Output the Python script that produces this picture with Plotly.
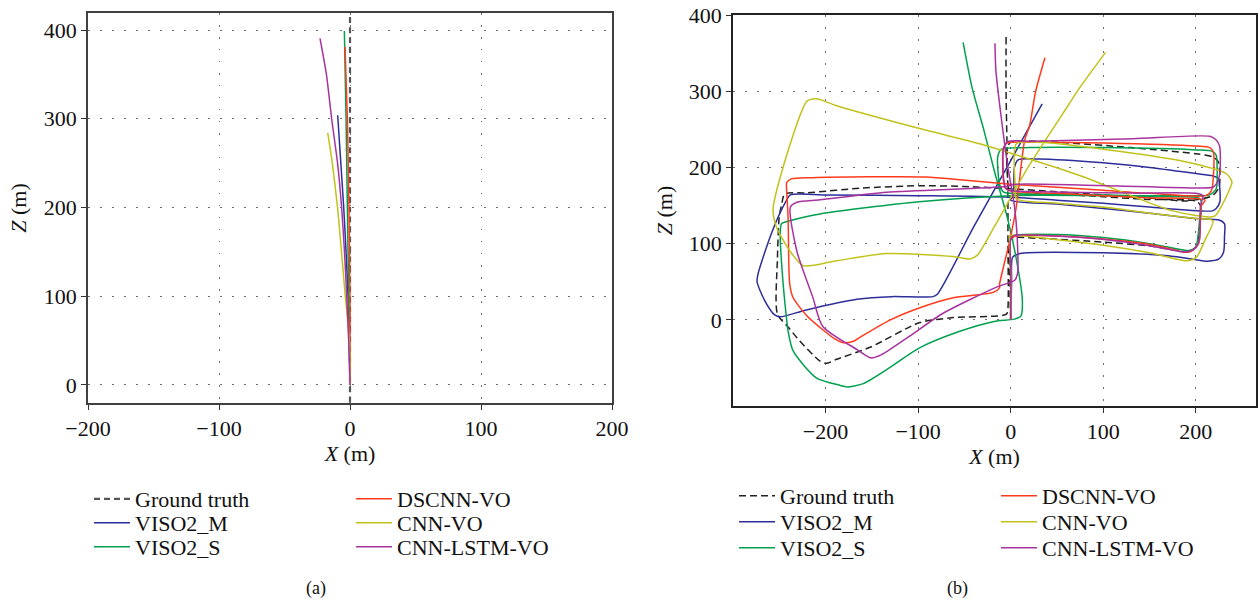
import plotly.graph_objects as go

# ---------------- (a) straight sequence ----------------
a_gt_x = [0, 0, 0]
a_gt_z = [-20, 200, 420]
a_m_x = [0, -0.5, -1.5, -3, -4.8, -7, -9.4]
a_m_z = [0, 50, 100, 150, 200, 250, 304]
a_s_x = [0, -0.5, -1, -2, -3, -4.3]
a_s_z = [0, 50, 100, 200, 300, 399]
a_ds_x = [0, 0, 0, -0.8, -2, -3.8]
a_ds_z = [0, 50, 100, 200, 300, 381]
a_cnn_x = [0, -0.5, -3.6, -6.5, -9.5, -13.5, -17]
a_cnn_z = [0, 50, 100, 150, 200, 250, 284]
a_lstm_x = [0, -1, -2.5, -4.2, -6.4, -9.5, -14, -18, -22.9]
a_lstm_z = [0, 50, 100, 150, 200, 250, 300, 350, 390.6]

# ---------------- (b) loop sequence ----------------
b_gt_x = [0, -1, -1, 3, 30, 100, 150, 180, 192, 200, 204, 205, 200, 150, 80, 10, -2,
          -3, -4, 0, 50, 130, 200, 218, 224, 226, 225, 218, 190, 150, 100, 50, 0,
          -50, -98, -160, -220.6, -244, -247.6, -250, -252, -252,
          -240, -228, -206, -199, -188, -152, -98, -62, -4.6,
          -3, -3, -3, -4, -5, -5]
b_gt_z = [0, 60, 104, 108, 107, 102, 97, 91, 89, 95, 120, 150, 156, 158, 163, 168, 172,
          180, 225, 233, 233, 226, 218, 214, 208, 190, 174, 163, 156, 160, 164, 168, 172,
          175, 176, 173, 166.7, 165.4, 150, 136, 80, 7.5,
          -10, -27.6, -54, -57, -51.7, -36, -3.5, 3, 7.5,
          15, 100, 161, 230, 300, 371]

b_m_x = [0, 1, 2, 10, 100, 170, 205, 213, 225, 230, 231, 231, 225, 200, 150, 100, 50, 0,
         3, 4, 8, 30, 100, 150, 200, 218, 224, 226, 226, 222, 218, 150, 100, 50, 0,
         -100, -200, -238, -243, -258, -273, -274, -266, -255, -249,
         -221, -166, -129, -84, -79, -40, 0, 34]
b_m_z = [0, 50, 82, 87, 88, 84, 78, 77, 80, 89, 110, 126, 131, 133, 140, 146, 152, 157,
         165, 200, 210, 211, 206, 200, 192, 189, 186, 170, 155, 146, 143, 148, 153, 157, 161,
         163, 164, 164, 155, 115, 60, 50, 26, 6.5, 4,
         13, 27, 30.5, 30.5, 34, 122, 209, 283.5]

b_s_x = [0, 0, 0, 5, 50, 100, 150, 185, 192, 200, 204, 206, 203, 150, 100, 50, 0, -8,
         -12, -14, -10, 20, 100, 200, 218, 222, 223, 222, 215, 200, 150, 100, 0,
         -99, -206, -238.7, -247.6, -249, -246, -242, -240.5, -235, -210, -184, -177,
         -160, -130, -99, -55, -18, 4, 11,
         12.6, 6.3, -3, -17.8, -28.9, -41.8, -51.4]
b_s_z = [0, 60, 106, 111, 112, 108, 100, 92, 91, 96, 130, 155, 160, 162, 164, 165, 166, 168,
         178, 214, 224, 226, 226, 223, 221, 216, 200, 172, 164, 163, 163, 163, 163,
         155, 139, 130, 126, 110, 50, 0, -14.5, -40.8, -76, -86, -88,
         -84, -62, -37, -15, -2, 1, 5,
         26, 78.5, 131, 196, 248.6, 305, 364]

b_ds_x = [0, 0, 0, 5, 50, 100, 150, 180, 186, 195, 203, 205, 206, 210, 150, 100, 50, 0,
          -6, -8, -8, -4, 30, 100, 200, 215, 219, 219, 217, 211, 150, 100, 50, 0,
          -55, -92, -214, -237, -242, -242, -240.5, -238.7, -235, -220, -206, -190, -181,
          -170, -163, -130, -98, -62, -19, -12,
          -12, -1, 6, 15, 20.5, 27, 37]
b_ds_z = [0, 60, 106, 110, 110, 106, 99, 91, 89, 90, 100, 130, 150, 157, 160, 163, 166, 169,
          173, 185, 225, 232, 233, 232, 228, 226, 220, 190, 170, 163, 166, 170, 174, 178,
          184, 187.5, 186.6, 185, 180, 170, 134.6, 47, 29, 5, -10, -25, -30,
          -28, -23, 0, 16, 29, 36, 42.5,
          47, 104, 148, 235, 255, 300, 344]

b_cnn_x = [0, 0, -1, -1, 50, 100, 150, 190, 200.5, 210, 218.5, 200, 150, 100, 50, 6,
           5, 6, 30, 100, 182.5, 233, 239, 236, 228, 220, 175, 74.5, -33.5, -92, -188, -210,
           -220, -240.5, -256.7, -253, -238.7, -224, -188, -134, -62, -44,
           -36, -17.8, 19, 56, 74.8, 102.5]
b_cnn_z = [0, 60, 106, 110.5, 105, 98, 88, 77.6, 82, 105, 130, 133, 140, 148, 153, 159,
           174, 231, 233, 224, 209, 191.7, 181, 170, 150, 136, 143, 189.5, 231, 249, 281, 290,
           287, 222, 145.6, 121.4, 90.8, 71, 77.6, 87, 83, 80,
           85, 122, 200.6, 270, 305, 351]

b_lstm_x = [0, 0, 0, 3, 50, 96, 150, 185, 193.5, 200, 204, 205, 207.7, 200, 132, 60, 0,
            -5, -7.6, -7.6, -3, 24, 132, 215, 222, 225.7, 225.7, 222, 218.5, 204, 96, 6,
            -5, -134, -206, -231, -238, -231, -214, -203, -166, -151, -140, -110, -73, -14,
            4.4, 7.4, 7, 4, -3, -7, -12, -16, -17]
b_lstm_z = [0, 60, 106, 110.5, 110, 106, 97.4, 89.5, 90, 95, 106, 150, 163, 166, 166.3, 167.5,
            169.6, 172, 185, 225, 234, 234.2, 237.7, 240.8, 236, 228, 190, 178, 174, 173,
            176.3, 178, 175, 167.5, 157.5, 154.4, 148, 90, 30.5, -8.7, -39, -50, -46, -22,
            8.7, 43.6, 52, 61, 108, 150, 200, 235, 283, 327, 363]

names = ["Ground truth", "VISO2_M", "VISO2_S", "DSCNN-VO", "CNN-VO", "CNN-LSTM-VO"]
colors = ["#222222", "#2e2e9a", "#00a04e", "#ff3b1c", "#c2c21c", "#a8339e"]

serif = "Liberation Serif, Times New Roman, serif"
W, H = 1258, 605

# legend entry placement (pixels): text start x per column, row centre y per row
legend_cols_a = [135, 397]
legend_rows_a = [499, 523, 547]
legend_cols_b = [780, 1042]
legend_rows_b = [496, 522, 548]
ITEM_W = 36

fig = go.Figure()

a_series = [(a_gt_x, a_gt_z), (a_m_x, a_m_z), (a_s_x, a_s_z),
            (a_ds_x, a_ds_z), (a_cnn_x, a_cnn_z), (a_lstm_x, a_lstm_z)]
b_series = [(b_gt_x, b_gt_z), (b_m_x, b_m_z), (b_s_x, b_s_z),
            (b_ds_x, b_ds_z), (b_cnn_x, b_cnn_z), (b_lstm_x, b_lstm_z)]

leg_font = dict(family=serif, size=22, color="#111111")
legends = {}


def legend_slot(key, col_x, row_y):
    legends[key] = dict(
        x=(col_x - ITEM_W - 10) / W, y=1 - row_y / H,
        xanchor="left", yanchor="middle", font=leg_font,
        bgcolor="rgba(0,0,0,0)", itemwidth=ITEM_W,
        itemclick=False, itemdoubleclick=False,
    )


for i, (xs, zs) in enumerate(a_series):
    is_gt = i == 0
    key = "legend" if i == 0 else f"legend{i + 1}"
    legend_slot(key, legend_cols_a[i // 3], legend_rows_a[i % 3])
    fig.add_trace(go.Scatter(
        x=xs, y=zs, mode="lines", name=names[i], showlegend=True,
        line=dict(color="#555555" if is_gt else colors[i],
                  width=2.2 if is_gt else 1.5,
                  dash="6px,4px" if is_gt else "solid",
                  shape="spline", smoothing=0.6),
        xaxis="x", yaxis="y", legend=key,
    ))

for i, (xs, zs) in enumerate(b_series):
    is_gt = i == 0
    key = f"legend{i + 7}"
    legend_slot(key, legend_cols_b[i // 3], legend_rows_b[i % 3])
    fig.add_trace(go.Scatter(
        x=xs, y=zs, mode="lines", name=names[i], showlegend=True,
        line=dict(color=colors[i], width=1.5,
                  dash="7px,4px" if is_gt else "solid",
                  shape="spline", smoothing=0.7),
        xaxis="x2", yaxis="y2", legend=key,
    ))

tick_font = dict(family=serif, size=22, color="#111111")
title_font = dict(family=serif, size=22, color="#111111")
axis_common = dict(showgrid=True, gridcolor="#6e6e6e", gridwidth=1.2, griddash="1.5px,10.5px",
                   zeroline=False, showline=True, mirror=True, ticks="outside", ticklen=5,
                   tickcolor="#333333", tickfont=tick_font, automargin=False)

fig.update_layout(
    width=W, height=H, showlegend=True,
    margin=dict(l=0, r=0, t=0, b=0, autoexpand=False),
    paper_bgcolor="white", plot_bgcolor="white",
    xaxis=dict(domain=[88 / W, 612 / W], range=[-200, 200],
               tickvals=[-200, -100, 0, 100, 200], linecolor="#404040", linewidth=1.5,
               title=dict(text="<i>X</i> (m)", font=title_font, standoff=0),
               anchor="y", **axis_common),
    yaxis=dict(domain=[1 - 403 / H, 1 - 13 / H], range=[-20.3, 419.2],
               tickvals=[0, 100, 200, 300, 400], linecolor="#404040", linewidth=1.5,
               title=dict(text="<i>Z</i> (m)", font=title_font, standoff=11),
               anchor="x", **axis_common),
    xaxis2=dict(domain=[733 / W, 1256 / W], range=[-300, 265],
                tickvals=[-200, -100, 0, 100, 200], linecolor="#222222", linewidth=1.5,
                title=dict(text="<i>X</i> (m)", font=title_font, standoff=0),
                anchor="y2", **axis_common),
    yaxis2=dict(domain=[1 - 406 / H, 1 - 15 / H], range=[-113, 400],
                tickvals=[0, 100, 200, 300, 400], linecolor="#222222", linewidth=1.5,
                title=dict(text="<i>Z</i> (m)", font=title_font, standoff=10),
                anchor="x2", **axis_common),
    **legends,
)

for label, xp in [("(a)", 316), ("(b)", 957)]:
    fig.add_annotation(text=label, x=xp / W, y=1 - 588 / H, xref="paper", yref="paper",
                       showarrow=False, font=dict(family=serif, size=18, color="#111111"),
                       xanchor="center", yanchor="middle")

fig.write_html("out.html")
